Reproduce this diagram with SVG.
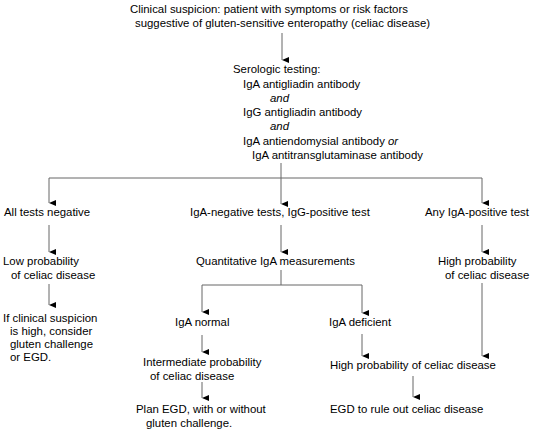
<svg xmlns="http://www.w3.org/2000/svg" width="535" height="447" viewBox="0 0 535 447">
<style>
text{font-family:"Liberation Sans",Arial,sans-serif;font-size:11.4px;fill:#000}
.i{font-style:italic}
.c{fill:none;stroke:#666;stroke-width:1}
</style>
<defs>
<marker id="ah" viewBox="0 0 6 7" refX="3" refY="7" markerWidth="6" markerHeight="7" orient="auto-start-reverse" markerUnits="userSpaceOnUse">
<path d="M0,0 L6,0 L3,7 Z" fill="#000"/>
</marker>
</defs>
<rect width="535" height="447" fill="#fff"/>
<g id="connectors">
<path class="c" d="M282,33 V60" marker-end="url(#ah)"/>
<path class="c" d="M281,163 V178"/>
<path class="c" d="M49,178 H482"/>
<path class="c" d="M49,178 V203" marker-end="url(#ah)"/>
<path class="c" d="M281,178 V204" marker-end="url(#ah)"/>
<path class="c" d="M482,178 V203" marker-end="url(#ah)"/>
<path class="c" d="M49,225 V252" marker-end="url(#ah)"/>
<path class="c" d="M281,225 V252" marker-end="url(#ah)"/>
<path class="c" d="M482,225 V252" marker-end="url(#ah)"/>
<path class="c" d="M49,284 V305" marker-end="url(#ah)"/>
<path class="c" d="M281,270 V285 H202 V312" marker-end="url(#ah)"/>
<path class="c" d="M281,285 H362 V313" marker-end="url(#ah)"/>
<path class="c" d="M202,335 V352" marker-end="url(#ah)"/>
<path class="c" d="M362,334 V356" marker-end="url(#ah)"/>
<path class="c" d="M482,283 V356" marker-end="url(#ah)"/>
<path class="c" d="M202,382 V398" marker-end="url(#ah)"/>
<path class="c" d="M413,376 V397" marker-end="url(#ah)"/>
</g>
<g id="start">
<text x="130" y="13">Clinical suspicion: patient with symptoms or risk factors</text>
<text x="135" y="27">suggestive of gluten-sensitive enteropathy (celiac disease)</text>
</g>
<g id="serology">
<text x="233" y="73">Serologic testing:</text>
<text x="243" y="88">IgA antigliadin antibody</text>
<text x="270" y="102" class="i">and</text>
<text x="243" y="116">IgG antigliadin antibody</text>
<text x="270" y="130" class="i">and</text>
<text x="243" y="145">IgA antiendomysial antibody <tspan class="i">or</tspan></text>
<text x="252" y="159">IgA antitransglutaminase antibody</text>
</g>
<g id="all-negative"><text x="4" y="216">All tests negative</text></g>
<g id="iga-neg"><text x="190" y="216">IgA-negative tests, IgG-positive test</text></g>
<g id="iga-pos"><text x="425" y="216">Any IgA-positive test</text></g>
<g id="low-prob"><text x="3" y="265">Low probability</text><text x="11" y="279">of celiac disease</text></g>
<g id="quant"><text x="196" y="265">Quantitative IgA measurements</text></g>
<g id="high-prob-right"><text x="438" y="265">High probability</text><text x="445" y="279">of celiac disease</text></g>
<g id="if-clinical">
<text x="3" y="322">If clinical suspicion</text>
<text x="10" y="335">is high, consider</text>
<text x="10" y="348">gluten challenge</text>
<text x="10" y="361">or EGD.</text>
</g>
<g id="iga-normal"><text x="175" y="326">IgA normal</text></g>
<g id="iga-deficient"><text x="329" y="326">IgA deficient</text></g>
<g id="intermediate"><text x="143" y="366">Intermediate probability</text><text x="150" y="380">of celiac disease</text></g>
<g id="high-prob"><text x="330" y="369">High probability of celiac disease</text></g>
<g id="plan-egd"><text x="136" y="413">Plan EGD, with or without</text><text x="146" y="427">gluten challenge.</text></g>
<g id="egd-rule-out"><text x="330" y="413">EGD to rule out celiac disease</text></g>
</svg>
